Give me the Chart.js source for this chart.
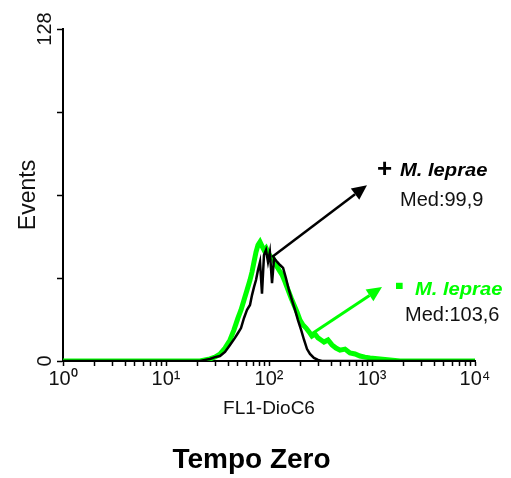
<!DOCTYPE html>
<html>
<head>
<meta charset="utf-8">
<script src="https://cdn.jsdelivr.net/npm/chart.js@4/dist/chart.umd.min.js"></script>
<style>
  body { margin: 0; background: #fff; }
  #wrap { width: 511px; height: 478px; }
</style>
</head>
<body>
<div id="wrap"><canvas id="myChart"></canvas></div>
<script>
// FL1 channel (log) and event counts
const blackChannels = [1, 21.4, 23.9, 26.7, 29.9, 33.4, 37.4, 41.8, 46.7, 50.0, 53.5, 57.2, 61.2, 65.4, 68.4, 71.5, 74.8, 78.2, 81.8, 85.5,
  89.4, 93.5, 97.8, 102, 107, 112, 120, 128, 137, 146, 156, 167, 179, 191, 205, 219, 234, 250, 273, 299, 327, 10000];
const blackCounts = [0, 0, 0.4, 0.8, 1.5, 1.9, 3.5, 6.2, 8.9, 10.8, 12.7, 16.6, 19.7, 21.6, 25.4, 28.5, 31.2, 35.1, 38.2, 26,
  40.9, 42.8, 38.2, 42, 30, 39.7, 38.2, 37, 35.9, 32, 27.4, 23.5, 19.7, 15.8, 12, 8.1, 4.6, 2.7, 1.2, 0.4, 0, 0];

const greenChannels = [1, 21.4, 23.9, 26.7, 29.9, 33.4, 37.4, 41.8, 45.7, 50.0, 53.5, 57.2, 61.2, 65.4, 68.4, 71.5, 74.8, 78.2, 81.8, 85.5,
  89.4, 93.5, 97.8, 102, 109, 117, 125, 134, 143, 153, 164, 175, 187, 200, 214, 229, 245, 261, 280, 299,
  320, 342, 374, 409, 447, 489, 547, 611, 684, 764, 855, 957, 1196, 1496, 1871, 10000];
const greenCounts = [0, 0, 0.4, 0.8, 1.5, 2.7, 5, 8.1, 12, 16.6, 19.7, 23.5, 27.4, 31.2, 34.3, 38.2, 42, 44.7, 45.9, 44.3,
  42.8, 43.6, 42, 40.5, 39.7, 37, 35.1, 33.2, 30.5, 27.4, 24.3, 21.6, 18.9, 15.8, 13.9, 12.7, 11.2, 9.6, 10.4, 8.9,
  8.1, 7.3, 8.1, 6.2, 5, 4.2, 4.6, 3.1, 2.7, 1.9, 1.5, 1.2, 0.8, 0.4, 0, 0];

const xTickLabels = ["10⁰", "10¹", "10²", "10³", "10⁴"];
const yTickValues = [0, 32, 64, 96, 128];
const yTickLabels = ["0", "", "", "", "128"];

const BLACK = "#000000";
const GREEN = "#00ff00";

// arrows and notes, in data units (channel, events)
const notes = [
  { arrowFrom: [107, 40.1], arrowTo: [894, 67.8], color: BLACK, width: 2.5,
    sign: "+", signAt: [1119, 73.6], signScale: 1, name: "M. leprae", nameAt: [1871, 73.2], med: "Med:99,9", medAt: [1871, 62] },
  { arrowFrom: [250, 10], arrowTo: [1250, 28.5], color: GREEN, width: 3,
    sign: "-", signAt: [1672, 29.6], signScale: 2, name: "M. leprae", nameAt: [2614, 27.4], med: "Med:103,6", medAt: [2090, 17.7] }
];

function toPoints(xs, ys) {
  return xs.map((x, i) => ({ x: x, y: ys[i] }));
}

Chart.defaults.font.family = "'Liberation Sans', Arial, sans-serif";
Chart.defaults.color = "#111";

const notesPlugin = {
  id: "notes",
  afterDatasetsDraw(chart) {
    const ctx = chart.ctx;
    const xs = chart.scales.x, ys = chart.scales.y;
    const px = p => [xs.getPixelForValue(p[0]), ys.getPixelForValue(p[1])];
    notes.forEach(n => {
      const [x1, y1] = px(n.arrowFrom);
      const [x2, y2] = px(n.arrowTo);
      const ang = Math.atan2(y2 - y1, x2 - x1);
      const head = 15, half = 7;
      const bx = x2 - head * Math.cos(ang), by = y2 - head * Math.sin(ang);
      ctx.save();
      ctx.strokeStyle = n.color;
      ctx.fillStyle = n.color;
      ctx.lineWidth = n.width;
      ctx.beginPath();
      ctx.moveTo(x1, y1);
      ctx.lineTo(bx, by);
      ctx.stroke();
      ctx.beginPath();
      ctx.moveTo(x2, y2);
      ctx.lineTo(bx + half * Math.sin(ang), by - half * Math.cos(ang));
      ctx.lineTo(bx - half * Math.sin(ang), by + half * Math.cos(ang));
      ctx.closePath();
      ctx.fill();

      ctx.textBaseline = "middle";
      ctx.textAlign = "left";
      const [sx, sy] = px(n.signAt);
      ctx.save();
      ctx.translate(sx, sy);
      ctx.scale(1, n.signScale);
      ctx.font = "bold 26px 'Liberation Sans', Arial";
      ctx.fillText(n.sign, 0, 0);
      ctx.restore();

      const [nx, ny] = px(n.nameAt);
      ctx.save();
      ctx.translate(nx, ny);
      ctx.scale(1.12, 1);
      ctx.font = "italic bold 18px 'Liberation Sans', Arial";
      ctx.fillText(n.name, 0, 0);
      ctx.restore();

      const [mx, my] = px(n.medAt);
      ctx.fillStyle = "#111";
      ctx.font = "20px 'Liberation Sans', Arial";
      ctx.fillText(n.med, mx, my);
      ctx.restore();
    });
  }
};

new Chart("myChart", {
  type: "line",
  data: {
    datasets: [{
      label: "+ M. leprae",
      data: toPoints(blackChannels, blackCounts),
      borderColor: BLACK,
      borderWidth: 2.5,
      pointRadius: 0,
      tension: 0
    }, {
      label: "- M. leprae",
      data: toPoints(greenChannels, greenCounts),
      borderColor: GREEN,
      borderWidth: 5,
      pointRadius: 0,
      tension: 0
    }]
  },
  options: {
    responsive: true,
    maintainAspectRatio: false,
    animation: false,
    layout: { padding: { left: 0, right: 8, top: 29, bottom: 0 } },
    plugins: {
      legend: { display: false },
      tooltip: { enabled: false },
      title: {
        display: true,
        position: "bottom",
        text: "Tempo Zero",
        color: "#000",
        font: { size: 28, weight: "bold", lineHeight: 1.2 },
        padding: { top: 19.3, bottom: 0.7 }
      }
    },
    scales: {
      x: {
        type: "logarithmic",
        min: 1,
        max: 10000,
        afterBuildTicks(scale) {
          const t = [];
          for (let p = 0; p < 4; p++) {
            for (let m = 1; m < 10; m++) t.push({ value: m * Math.pow(10, p) });
          }
          t.push({ value: 10000 });
          scale.ticks = t;
        },
        afterFit(scale) { scale.height = 63.4; },
        grid: { drawOnChartArea: false, color: "#000", tickLength: 5, tickWidth: 1.5 },
        border: { display: true, color: "#000", width: 2 },
        ticks: {
          autoSkip: false,
          maxRotation: 0,
          padding: 1,
          color: "#111",
          font: { size: 20 },
          callback: v => {
            const p = Math.log10(v);
            return Math.abs(p - Math.round(p)) < 1e-6 ? xTickLabels[Math.round(p)] : "";
          }
        },
        title: { display: true, text: "FL1-DioC6", color: "#111", font: { size: 19 } }
      },
      y: {
        min: 0,
        max: 128,
        afterBuildTicks(scale) { scale.ticks = yTickValues.map(v => ({ value: v })); },
        afterFit(scale) { scale.width = 63; },
        grid: { drawOnChartArea: false, color: "#000", tickLength: 6, tickWidth: 1.5 },
        border: { display: true, color: "#000", width: 2 },
        ticks: {
          minRotation: 90,
          maxRotation: 90,
          crossAlign: "center",
          padding: -5,
          color: "#111",
          font: { size: 20 },
          callback: v => yTickLabels[yTickValues.indexOf(v)]
        },
        title: { display: true, text: "Events", color: "#111", font: { size: 23, lineHeight: 2.17 } }
      },
      yPad: {
        position: "right",
        display: true,
        grid: { display: false },
        border: { display: false },
        ticks: { display: false },
        afterFit(scale) { scale.width = 28; }
      }
    }
  },
  plugins: [notesPlugin]
});
</script>
</body>
</html>
